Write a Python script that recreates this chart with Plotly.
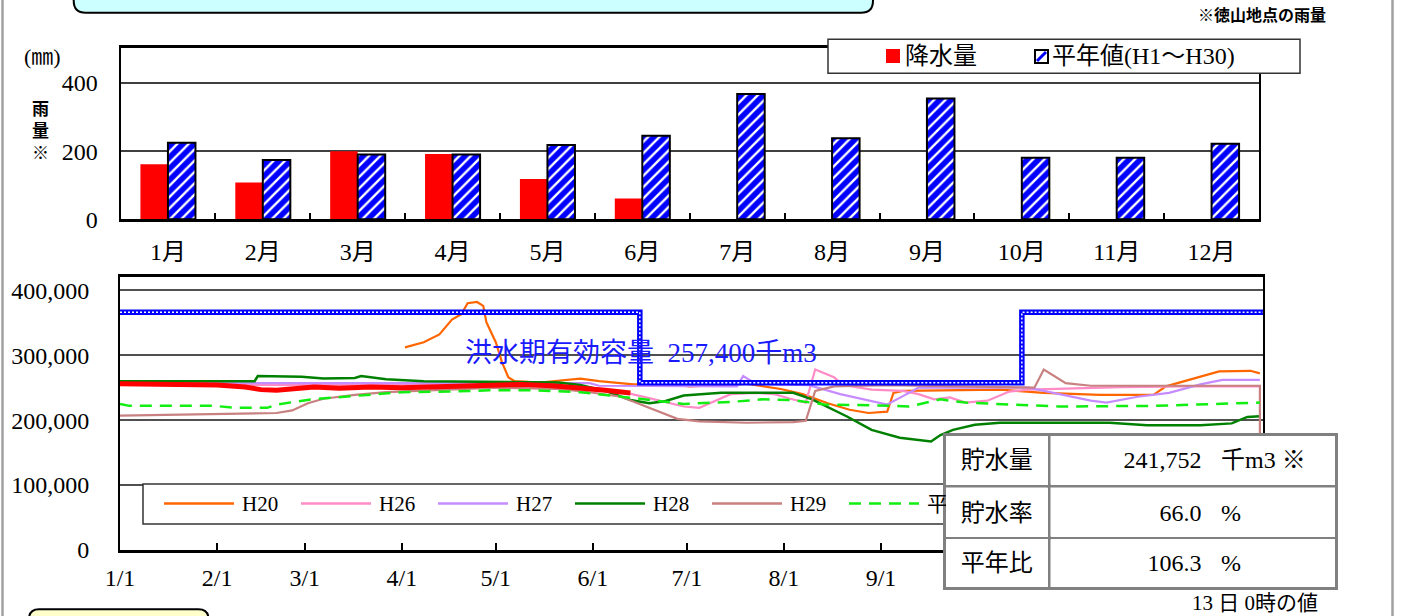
import plotly.graph_objects as go

# ---------------- data ----------------
months = ["1月", "2月", "3月", "4月", "5月", "6月", "7月", "8月", "9月", "10月", "11月", "12月"]
rain_this_year = [162, 108, 200, 192, 118, 61, None, None, None, None, None, None]
rain_normal = [225, 174, 190, 190, 218, 245, 368, 238, 355, 181, 181, 222]

tick_dates = ["01-01", "02-01", "03-01", "04-01", "05-01", "06-01",
              "07-01", "08-01", "09-01", "10-01", "11-01", "12-01"]
tick_labels = ["1/1", "2/1", "3/1", "4/1", "5/1", "6/1",
               "7/1", "8/1", "9/1", "10/1", "11/1", "12/1"]

h20_dates = ["04-02", "04-08", "04-13", "04-17", "04-20", "04-22", "04-25", "04-27", "04-28",
             "05-01", "05-03", "05-05", "05-07", "05-15", "05-28", "06-03", "06-14", "06-25",
             "07-02", "07-20", "07-31", "08-07", "08-15", "08-22", "08-28", "09-03", "09-05",
             "09-08", "10-09", "10-23", "11-10", "11-27", "12-01", "12-12", "12-18", "12-28", "12-31"]
h20_values = [312000, 320000, 332000, 355000, 363000, 380000, 382000, 376000, 351000,
              320000, 289000, 266000, 260000, 258000, 264000, 260000, 255000, 255000,
              252000, 256000, 248000, 240000, 226000, 216000, 211000, 213000, 242000,
              245000, 247000, 242000, 239000, 239000, 252000, 267000, 275000, 276000, 272000]

h26_dates = ["01-01", "03-02", "05-01", "05-21", "05-31", "06-10", "06-18", "06-25", "06-30",
             "07-05", "07-10", "07-15", "07-23", "07-29", "08-03", "08-08", "08-11", "08-17",
             "08-20", "08-29", "09-08", "09-13", "09-18", "09-23", "09-28", "10-05", "10-12",
             "10-18", "11-02", "11-17", "12-07", "12-31"]
h26_values = [255000, 254000, 256000, 254000, 250000, 244000, 235000, 227000, 221000,
              219000, 230000, 240000, 242000, 240000, 233000, 227000, 278000, 266000,
              254000, 247000, 245000, 240000, 232000, 235000, 227000, 230000, 244000,
              247000, 249000, 251000, 252000, 252000]

h27_dates = ["01-01", "05-31", "06-03", "06-25", "07-17", "07-19", "07-23", "07-30", "08-09",
             "08-19", "08-29", "09-03", "09-08", "09-13", "10-18", "10-28", "11-07", "11-12",
             "11-22", "12-02", "12-12", "12-19", "12-31"]
h27_values = [257000, 257000, 253000, 252000, 252000, 268000, 256000, 255000, 254000,
              240000, 229000, 224000, 237000, 250000, 250000, 240000, 230000, 227000,
              236000, 242000, 255000, 262000, 262000]

h28_dates = ["01-01", "02-13", "02-14", "02-28", "03-07", "03-17", "03-19", "03-27", "04-08",
             "05-21", "05-28", "06-05", "06-13", "06-19", "06-24", "06-30", "07-12", "08-04",
             "08-10", "08-21", "08-29", "09-07", "09-17", "09-20", "09-24", "10-01", "10-09",
             "11-13", "11-25", "12-12", "12-22", "12-27", "12-31"]
h28_values = [260000, 260000, 268000, 267000, 264000, 265000, 268000, 263000, 260000,
              258000, 254000, 245000, 231000, 226000, 229000, 238000, 242000, 242000,
              232000, 206000, 185000, 173000, 167000, 177000, 185000, 193000, 196000,
              196000, 192000, 192000, 195000, 205000, 206000]

h29_dates = ["01-01", "01-31", "02-20", "02-25", "03-02", "03-07", "03-17", "03-27", "04-11",
             "05-01", "05-21", "05-31", "06-10", "06-20", "06-28", "07-05", "07-20", "08-04",
             "08-08", "08-11", "08-17", "09-03", "09-28", "10-20", "10-23", "10-30", "11-07",
             "12-31", "12-31"]
h29_values = [207000, 209000, 211000, 215000, 226000, 233000, 239000, 243000, 246000,
              250000, 248000, 243000, 236000, 217000, 202000, 198000, 196000, 197000,
              199000, 245000, 252000, 254000, 252000, 250000, 278000, 257000, 253000,
              253000, 150000]

normal_dates = ["01-01", "01-04", "01-31", "02-07", "02-17", "02-20", "03-03", "03-18", "04-01",
                "04-16", "04-29", "05-13", "05-28", "06-14", "06-30", "07-15", "07-25", "08-04",
                "08-14", "08-29", "09-10", "09-20", "09-28", "10-13", "10-28", "11-27", "12-31"]
normal_values = [225000, 222000, 222000, 219000, 219000, 224000, 232000, 238000, 243000,
                 244000, 246000, 246000, 243000, 234000, 225000, 228000, 232000, 231000,
                 224000, 223000, 221000, 232000, 227000, 224000, 221000, 222000, 227000]

now_dates = ["01-01", "01-11", "01-21", "02-01", "02-10", "02-15", "02-20", "02-26", "03-04",
             "03-12", "03-22", "04-01", "04-11", "04-21", "05-01", "05-09", "05-19", "05-29",
             "06-05", "06-13"]
now_values = [256000, 255000, 254000, 254000, 251000, 247000, 246000, 249000, 251000,
              249000, 251000, 250000, 251000, 252000, 253000, 255000, 253000, 250000,
              246000, 241752]

limit_dates = ["2019-01-01", "2019-06-16", "2019-10-16", "2020-01-01"]
limit_values = [366300, 257400, 366300, 366300]

table_labels = ["貯水量", "貯水率", "平年比"]
table_values = ["241,752", "66.0", "106.3"]
table_units = ["千m3 ※", "%", "%"]

legend_names = ["H20", "H26", "H27", "H28", "H29", "平年値"]
legend_colors = ["#ff6600", "#ff8cc6", "#c68cff", "#008000", "#c88080", "#11ee11"]


def dd(lst):
    return ["2019-" + s for s in lst]


# ---------------- geometry helpers (pixel -> paper) ----------------
W, H = 1404, 616
ML, MR, MT, MB = 120, 141, 48, 66
PW, PH = W - ML - MR, H - MT - MB


def px(x):
    return (x - ML) / PW


def py(y):
    return (H - MB - y) / PH


FONT = "Liberation Serif, Noto Sans CJK JP"

fig = go.Figure()

# ---------------- top: rainfall bars ----------------
fig.add_trace(go.Bar(x=months, y=rain_this_year, name="降水量", marker=dict(color="#ff0000", line=dict(width=0)),
                     xaxis="x", yaxis="y", showlegend=False))
fig.add_trace(go.Bar(x=months, y=rain_normal, name="平年値(H1～H30)",
                     marker=dict(color="white", line=dict(color="black", width=2),
                                 pattern=dict(shape="/", fgcolor="#0000ff", bgcolor="white", size=8,
                                              solidity=0.7, fgopacity=1)),
                     xaxis="x", yaxis="y", showlegend=False))

# ---------------- bottom: storage lines ----------------
series = [
    (h20_dates, h20_values, "H20", "#ff6600", 2.2, "solid"),
    (h26_dates, h26_values, "H26", "#ff8cc6", 2.2, "solid"),
    (h27_dates, h27_values, "H27", "#c68cff", 2.2, "solid"),
    (h28_dates, h28_values, "H28", "#008000", 2.5, "solid"),
    (h29_dates, h29_values, "H29", "#c88080", 2.2, "solid"),
    (normal_dates, normal_values, "平年値", "#11ee11", 2.5, "12px,8px"),
    (now_dates, now_values, "H31", "#ff0000", 5, "solid"),
]
for dts, vals, nm, col, wd, dash in series:
    fig.add_trace(go.Scatter(x=dd(dts), y=vals, name=nm, mode="lines",
                             line=dict(color=col, width=wd, dash=dash),
                             xaxis="x2", yaxis="y2", showlegend=False))

fig.add_trace(go.Scatter(x=limit_dates, y=limit_values, mode="lines", line_shape="hv", name="洪水期",
                         line=dict(color="#0000ff", width=5.5), xaxis="x2", yaxis="y2", showlegend=False))
fig.add_trace(go.Scatter(x=limit_dates, y=limit_values, mode="lines", line_shape="hv", name="洪水期dots",
                         line=dict(color="white", width=1.5, dash="2px,2px"), xaxis="x2", yaxis="y2",
                         showlegend=False))

fig.update_layout(
    width=W, height=H,
    margin=dict(l=ML, r=MR, t=MT, b=MB, autoexpand=False),
    paper_bgcolor="white", plot_bgcolor="white",
    font=dict(family=FONT, size=24, color="black"),
    barmode="group", bargap=0.42, bargroupgap=0,
    xaxis=dict(domain=[px(120.5), px(1259)], anchor="y", type="category",
               showline=True, linecolor="black", linewidth=2.5, mirror=True,
               ticks="inside", tickson="boundaries", ticklen=7, tickwidth=1.5, tickcolor="black",
               showgrid=False, ticklabelstandoff=9, tickfont=dict(size=24)),
    yaxis=dict(domain=[py(219.3), py(48)], anchor="x", range=[0, 503],
               tickvals=[0, 200, 400], showline=True, linecolor="black", linewidth=2, mirror=True,
               showgrid=True, gridcolor="#404040", gridwidth=1.5, zeroline=False,
               ticks="", ticklabelstandoff=16, tickfont=dict(size=24)),
    xaxis2=dict(domain=[0, 1], anchor="y2", type="date", range=["2019-01-01", "2020-01-01"],
                tickvals=dd(tick_dates), ticktext=tick_labels,
                showline=True, linecolor="black", linewidth=2.5, mirror=True,
                ticks="inside", ticklen=7, tickwidth=1.5, tickcolor="black",
                showgrid=False, ticklabelstandoff=4, tickfont=dict(size=24)),
    yaxis2=dict(domain=[0, py(277.3)], anchor="x2", range=[0, 420000],
                tickvals=[0, 100000, 200000, 300000, 400000], tickformat=",",
                showline=True, linecolor="black", linewidth=2, mirror=True,
                showgrid=True, gridcolor="#505050", gridwidth=1.5, zeroline=False,
                ticks="", ticklabelstandoff=24, tickfont=dict(size=24)),
)

shapes = []
ann = []


def P(x, y):
    return f"{px(x):.5f},{py(y):.5f}"


def hline(x0, x1, y, col, w):
    shapes.append(dict(type="line", xref="paper", yref="paper", x0=px(x0), x1=px(x1), y0=py(y), y1=py(y),
                       line=dict(color=col, width=w), layer="above"))


def vline(x, y0, y1, col, w):
    shapes.append(dict(type="line", xref="paper", yref="paper", x0=px(x), x1=px(x), y0=py(y0), y1=py(y1),
                       line=dict(color=col, width=w), layer="above"))


# page frame lines
vline(2.5, 0, 616, "#a0a0a0", 2.5)
vline(1392.5, 0, 616, "#a0a0a0", 2.5)

# decorative rounded boxes
x0, x1, yb, yt, r = 73.7, 873, 12.7, -30, 12
shapes.append(dict(type="path", xref="paper", yref="paper", layer="above",
                   path=f"M{P(x0, yt)} L{P(x0, yb - r)} Q{P(x0, yb)} {P(x0 + r, yb)} L{P(x1 - r, yb)} "
                        f"Q{P(x1, yb)} {P(x1, yb - r)} L{P(x1, yt)} Z",
                   fillcolor="#ccffff", line=dict(color="black", width=2)))
x0, x1, yt, yb, r = 29, 208.5, 609.3, 650, 10
shapes.append(dict(type="path", xref="paper", yref="paper", layer="above",
                   path=f"M{P(x0, yb)} L{P(x0, yt + r)} Q{P(x0, yt)} {P(x0 + r, yt)} L{P(x1 - r, yt)} "
                        f"Q{P(x1, yt)} {P(x1, yt + r)} L{P(x1, yb)} Z",
                   fillcolor="#ffffcc", line=dict(color="black", width=2)))

# top legend
shapes.append(dict(type="rect", xref="paper", yref="paper", x0=px(828), x1=px(1300), y0=py(73.3), y1=py(39.3),
                   fillcolor="white", line=dict(color="#333333", width=1.5), layer="above"))
shapes.append(dict(type="rect", xref="paper", yref="paper", x0=px(886), x1=px(900), y0=py(63), y1=py(49),
                   fillcolor="#ff0000", line=dict(width=0), layer="above"))
shapes.append(dict(type="rect", xref="paper", yref="paper", x0=px(1035), x1=px(1048), y0=py(63), y1=py(50),
                   fillcolor="white", line=dict(color="black", width=2), layer="above"))
shapes.append(dict(type="line", xref="paper", yref="paper", x0=px(1037), x1=px(1046), y0=py(61), y1=py(52),
                   line=dict(color="#0000ff", width=3), layer="above"))
ann.append(dict(text="降水量", x=px(903), y=py(56.5), xanchor="left", yanchor="middle",
                font=dict(size=24)))
ann.append(dict(text="平年値(H1～H30)", x=px(1050), y=py(56.5), xanchor="left", yanchor="middle",
                font=dict(size=24)))

# bottom legend
shapes.append(dict(type="rect", xref="paper", yref="paper", x0=px(143), x1=px(1000), y0=py(524), y1=py(484),
                   fillcolor="white", line=dict(color="#333333", width=1.5), layer="above"))
for i, (nm, col) in enumerate(zip(legend_names, legend_colors)):
    lx = 164 + i * 137.0
    shapes.append(dict(type="line", xref="paper", yref="paper", x0=px(lx), x1=px(lx + 70),
                       y0=py(503.5), y1=py(503.5), layer="above",
                       line=dict(color=col, width=2.5, dash="12px,8px" if nm == "平年値" else "solid")))
    ann.append(dict(text=nm, x=px(lx + 76), y=py(503.5), xanchor="left", yanchor="middle",
                    font=dict(size=21)))

# flood season label
ann.append(dict(text="洪水期有効容量  257,400千m3", x=px(463), y=py(352.5), xanchor="left", yanchor="middle",
                font=dict(size=27, color="#1a1aff")))

# misc texts
ann.append(dict(text="<b>※徳山地点の雨量</b>", x=px(1196), y=py(14), xanchor="left", yanchor="middle",
                font=dict(size=16, family="Noto Sans CJK JP")))
ann.append(dict(text="(㎜)", x=px(42.5), y=py(57), xanchor="center", yanchor="middle", font=dict(size=22)))
ann.append(dict(text="<b>雨<br>量<br>※</b>", x=px(40), y=py(129), xanchor="center", yanchor="middle",
                font=dict(size=17, family="Noto Sans CJK JP")))
ann.append(dict(text="13 日 0時の値", x=px(1189.5), y=py(602.5), xanchor="left", yanchor="middle",
                font=dict(size=21)))

# table: white background + gray grid lines (shapes), cell boxes (annotations) on top
shapes.append(dict(type="rect", xref="paper", yref="paper", x0=px(943), x1=px(1338), y0=py(590), y1=py(433),
                   fillcolor="white", line=dict(width=0), layer="above"))
TG = "#808080"
for yy in (434.5, 486, 538, 588.5):
    hline(943, 1338, yy, TG, 3)
for xx in (944.5, 1049, 1336.5):
    vline(xx, 433, 590, TG, 3)

rows = [(436, 484.5), (487.5, 536.5), (539.5, 587)]
for ri, (ry0, ry1) in enumerate(rows):
    cy = py((ry0 + ry1) / 2)
    hh = ry1 - ry0
    # label cell
    ann.append(dict(text=table_labels[ri], x=px((946 + 1047.5) / 2), y=cy, xanchor="center", yanchor="middle",
                    width=1047.5 - 946, height=hh, bgcolor="white", borderwidth=0, borderpad=0,
                    align="center", font=dict(size=24)))
    # number part (right aligned at x=1201)
    pad = 10
    ann.append(dict(text=table_values[ri], x=px(1050.5), y=cy, xanchor="left", yanchor="middle",
                    width=1211 - 1050.5 - 2 * pad, height=hh - 2 * pad, bgcolor="white", borderwidth=0,
                    borderpad=pad, align="right", font=dict(size=24)))
    # unit part (left aligned at x=1221)
    ann.append(dict(text=table_units[ri], x=px(1211), y=cy, xanchor="left", yanchor="middle",
                    width=1335 - 1211 - 2 * pad, height=hh - 2 * pad, bgcolor="white", borderwidth=0,
                    borderpad=pad, align="left", font=dict(size=24)))

for a in ann:
    a.setdefault("xref", "paper")
    a.setdefault("yref", "paper")
    a.setdefault("showarrow", False)

fig.update_layout(shapes=shapes, annotations=ann)
fig.write_html("out.html", config={"displayModeBar": False},
               post_script="document.body.style.margin='0px';")
